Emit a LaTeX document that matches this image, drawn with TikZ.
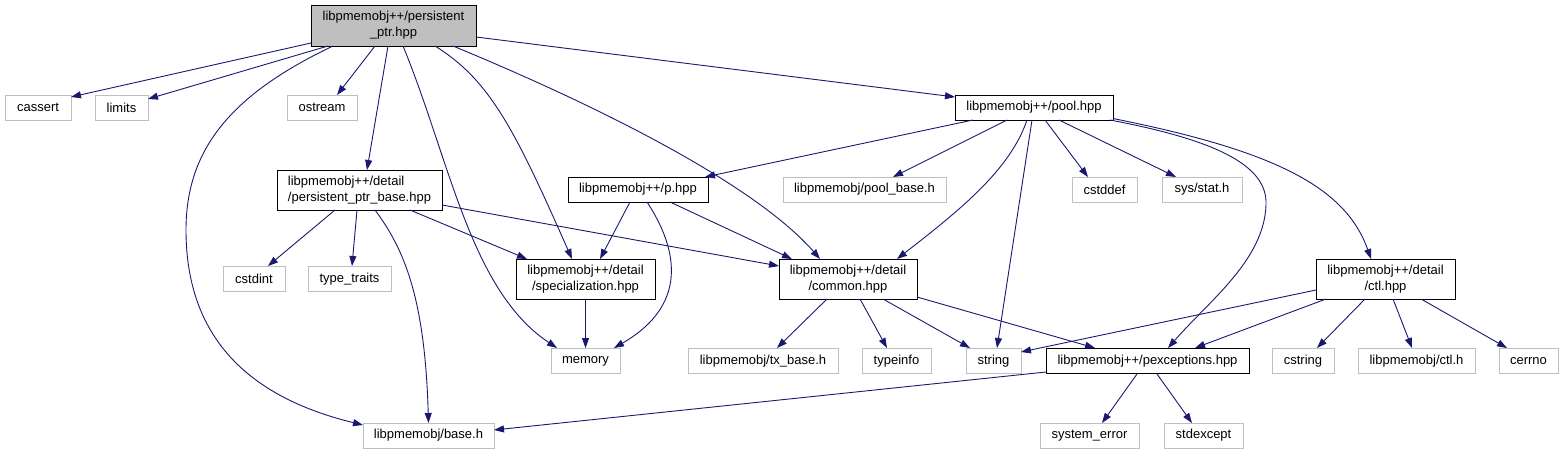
\documentclass[tikz,border=0pt]{standalone}
\usepackage{fontspec}
\setmainfont{Liberation Sans}
\usetikzlibrary{arrows.meta,calc}
\definecolor{edgec}{HTML}{191970}
\definecolor{grayb}{HTML}{BFBFBF}
\begin{document}
\begin{tikzpicture}[x=1pt,y=-1pt,
  base/.style={inner sep=0pt, align=center, line width=0.9pt, font=\fontsize{13}{16}\selectfont, minimum height=25pt},
  box/.style={base, draw=black, fill=white},
  ext/.style={base, draw=grayb, fill=white},
  two/.style={minimum height=40pt},
  dep/.style={draw=edgec, line width=0.9pt, -{Triangle[length=10pt,width=7pt]}}
]
\useasboundingbox (0,0) rectangle (1563,455);
% nodes
\node[box, fill=grayb, minimum width=165pt, minimum height=41pt] (pp) at (393.5,25.5) {libpmemobj++/persistent\\\_ptr.hpp};
\node[ext, minimum width=66pt] (cassert) at (38,107.5) {cassert};
\node[ext, minimum width=53pt] (limits) at (121.5,107.5) {limits};
\node[ext, minimum width=70pt] (ostream) at (322,107.5) {ostream};
\node[box, minimum width=158pt] (pool) at (1034,107.5) {libpmemobj++/pool.hpp};
\node[box, two, minimum width=165pt, align=left] (ppbase) at (359.5,190) {libpmemobj++/detail\\/persistent\_ptr\_base.hpp};
\node[box, minimum width=140pt] (phpp) at (638,189.5) {libpmemobj++/p.hpp};
\node[ext, minimum width=163pt] (poolbase) at (864.5,189.5) {libpmemobj/pool\_base.h};
\node[ext, minimum width=65pt] (cstddef) at (1104.5,189.5) {cstddef};
\node[ext, minimum width=80pt] (sysstat) at (1202,189.5) {sys/stat.h};
\node[ext, minimum width=62pt] (cstdint) at (254,279) {cstdint};
\node[ext, minimum width=83pt] (typetraits) at (349.5,279) {type\_traits};
\node[box, two, minimum width=139pt] (spec) at (585.5,279) {libpmemobj++/detail\\/specialization.hpp};
\node[box, two, minimum width=138pt] (common) at (848,279) {libpmemobj++/detail\\/common.hpp};
\node[box, two, minimum width=139pt] (ctl) at (1385.5,279) {libpmemobj++/detail\\/ctl.hpp};
\node[ext, minimum width=69pt] (memory) at (585.5,361) {memory};
\node[ext, minimum width=150pt] (txbase) at (763,361) {libpmemobj/tx\_base.h};
\node[ext, minimum width=69pt] (typeinfo) at (896.5,361) {typeinfo};
\node[ext, minimum width=55pt] (string) at (993.5,361) {string};
\node[box, minimum width=203pt] (pexc) at (1147.5,361) {libpmemobj++/pexceptions.hpp};
\node[ext, minimum width=62pt] (cstring) at (1303,361) {cstring};
\node[ext, minimum width=117pt] (ctlh) at (1416.5,361) {libpmemobj/ctl.h};
\node[ext, minimum width=59pt] (cerrno) at (1528.5,361) {cerrno};
\node[ext, minimum width=131pt] (baseh) at (428.5,435.5) {libpmemobj/base.h};
\node[ext, minimum width=99pt] (syserr) at (1089.5,435.5) {system\_error};
\node[ext, minimum width=79pt] (stdexcept) at (1203.5,435.5) {stdexcept};
% edges from persistent_ptr.hpp
\draw[dep] ($(pp)+(-82.5,17.5)$) -- ($(cassert)+(33,-10.5)$);
\draw[dep] ($(pp)+(-65.5,20.5)$) -- ($(limits)+(26.5,-8.5)$);
\draw[dep] ($(pp)+(-18.5,20.5)$) -- ($(ostream)+(15,-12.5)$);
\draw[dep] ($(pp)+(-60.5,20.5)$) .. controls (230,95) and (186,150) .. (186,230) .. controls (186,330) and (240,395) .. ($(baseh)+(-65.5,-10.5)$);
\draw[dep] ($(pp)+(-5.5,20.5)$) -- ($(ppbase)+(7.5,-20)$);
\draw[dep] ($(pp)+(9.5,20.5)$) .. controls (450,160) and (470,290) .. ($(memory)+(-28.5,-13)$);
\draw[dep] ($(pp)+(41.5,20.5)$) .. controls (490,80) and (515,130) .. ($(spec)+(-13.5,-20)$);
\draw[dep] ($(pp)+(59.5,20.5)$) .. controls (620,115) and (760,190) .. ($(common)+(-28,-20)$);
\draw[dep] ($(pp)+(82.5,11.5)$) -- ($(pool)+(-79,-10.5)$);
% edges from pool.hpp
\draw[dep] ($(pool)+(-61,12.5)$) -- ($(phpp)+(67,-12.5)$);
\draw[dep] ($(pool)+(-27,12.5)$) -- ($(poolbase)+(28.5,-12.5)$);
\draw[dep] ($(pool)+(-7,12.5)$) .. controls (1010,170) and (960,210) .. ($(common)+(49,-20)$);
\draw[dep] ($(pool)+(-2,12.5)$) -- ($(string)+(3.5,-13)$);
\draw[dep] ($(pool)+(11,12.5)$) -- ($(cstddef)+(-16.5,-12.5)$);
\draw[dep] ($(pool)+(25,12.5)$) -- ($(sysstat)+(-26,-12.5)$);
\draw[dep] ($(pool)+(76,12.5)$) .. controls (1215,140) and (1268,165) .. (1266,205) .. controls (1264,260) and (1210,300) .. ($(pexc)+(20.5,-13)$);
\draw[dep] ($(pool)+(79,11)$) .. controls (1270,150) and (1345,185) .. ($(ctl)+(-14.5,-20)$);
% edges from p.hpp
\draw[dep] ($(phpp)+(-8,12.5)$) -- ($(spec)+(14.5,-20)$);
\draw[dep] ($(phpp)+(9,12.5)$) .. controls (685,260) and (680,310) .. ($(memory)+(28.5,-13)$);
\draw[dep] ($(phpp)+(32,12.5)$) -- ($(common)+(-56,-20)$);
% specialization
\draw[dep] (spec.south) -- (memory.north);
% edges from persistent_ptr_base.hpp
\draw[dep] ($(ppbase)+(-24.5,20)$) -- ($(cstdint)+(14,-13)$);
\draw[dep] ($(ppbase)+(-2.5,20)$) -- ($(typetraits)+(2.5,-13)$);
\draw[dep] ($(ppbase)+(15.5,20)$) .. controls (405,250) and (425,300) .. ($(baseh)+(0,-12.5)$);
\draw[dep] ($(ppbase)+(50.5,20)$) -- ($(spec)+(-58.5,-20)$);
\draw[dep] ($(ppbase)+(82.5,15)$) -- ($(common)+(-69,-13)$);
% edges from common.hpp
\draw[dep] ($(common)+(-21,20)$) -- ($(txbase)+(14,-13)$);
\draw[dep] ($(common)+(12,20)$) -- ($(typeinfo)+(-9.5,-13)$);
\draw[dep] ($(common)+(35,20)$) -- ($(string)+(-23.5,-13)$);
\draw[dep] ($(common)+(69,18)$) -- ($(pexc)+(-52.5,-13)$);
% edges from ctl.hpp
\draw[dep] ($(ctl)+(-69.5,11)$) -- ($(string)+(27.5,-9)$);
\draw[dep] ($(ctl)+(-59.5,20)$) -- ($(pexc)+(47.5,-13)$);
\draw[dep] ($(ctl)+(-20.5,20)$) -- ($(cstring)+(14,-13)$);
\draw[dep] ($(ctl)+(7.5,20)$) -- ($(ctlh)+(-4.5,-13)$);
\draw[dep] ($(ctl)+(35.5,20)$) -- ($(cerrno)+(-21.5,-13)$);
% edges from pexceptions.hpp
\draw[dep] ($(pexc)+(-101.5,11)$) -- ($(baseh)+(65.5,-5.5)$);
\draw[dep] ($(pexc)+(-10.5,13)$) -- ($(syserr)+(12.5,-12.5)$);
\draw[dep] ($(pexc)+(9.5,13)$) -- ($(stdexcept)+(-11.5,-12.5)$);
\end{tikzpicture}
\end{document}
